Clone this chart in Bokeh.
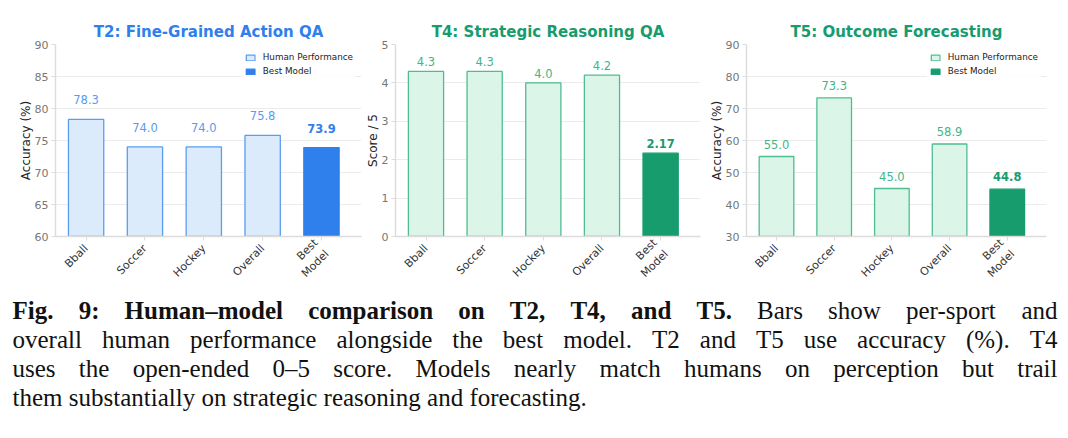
import math

from bokeh.core.properties import value
from bokeh.embed import file_html
from bokeh.layouts import column, row
from bokeh.models import ColumnDataSource, FixedTicker, Legend, LegendItem, Range1d
from bokeh.plotting import figure
from bokeh.resources import INLINE

# ---------------------------------------------------------------- data
categories = ["Bball", "Soccer", "Hockey", "Overall", "Best\nModel"]

t2_human = [78.3, 74.0, 74.0, 75.8]
t2_model = 73.9
t2_ticks = [60, 65, 70, 75, 80, 85, 90]

t4_human = [4.3, 4.3, 4.0, 4.2]
t4_model = 2.17
t4_ticks = [0, 1, 2, 3, 4, 5]

t5_human = [55.0, 73.3, 45.0, 58.9]
t5_model = 44.8
t5_ticks = [30, 40, 50, 60, 70, 80, 90]

caption_lines = [
    [("Fig. 9: Human\u2013model comparison on T2, T4, and T5.", True),
     ("Bars show per-sport and", False)],
    [("overall human performance alongside the best model. T2 and T5 use accuracy (%). T4", False)],
    [("uses the open-ended 0\u20135 score. Models nearly match humans on perception but trail", False)],
    [("them substantially on strategic reasoning and forecasting.", False)],
]
caption_justified = [True, True, True, False]

# ---------------------------------------------------------------- styles
FONT = "DejaVu Sans"
BLUE = dict(title="#2f80ed", fill="#dcebfc", edge="#5a9cf0", best="#2f80ed",
            lab="#5a9bf0", lab_best="#2f80ed")
GREEN = dict(title="#179c6e", fill="#dbf5e8", edge="#4fbd91", best="#179c6e",
             lab="#3fb688", lab_best="#179c6e")

FIG_H = 293
FRAME_TOP, FRAME_BOTTOM = 44, 238


def panel(title, human, model, ylim, yticks, ylabel, pal, width, left, right,
          label_off, show_legend, model_fmt):
    n = len(human)
    p = figure(width=width, height=FIG_H, title=title,
               x_range=Range1d(-0.52, 4.68), y_range=Range1d(*ylim),
               output_backend="svg", toolbar_location=None,
               min_border_left=left, min_border_right=right,
               min_border_top=FRAME_TOP, min_border_bottom=FIG_H - FRAME_BOTTOM)
    p.title.align = "center"
    p.title.text_font = FONT
    p.title.text_font_size = "15px"
    p.title.text_font_style = "bold"
    p.title.text_color = pal["title"]
    p.title.standoff = 7
    p.outline_line_color = None
    p.background_fill_color = "white"

    hx = list(range(n))
    hsrc = ColumnDataSource(dict(x=hx, top=human,
                                 lab=[f"{v:.1f}" for v in human]))
    msrc = ColumnDataSource(dict(x=[n], top=[model], lab=[model_fmt.format(model)]))

    r_h = p.vbar(x="x", top="top", bottom=0, width=0.6, source=hsrc,
                 fill_color=pal["fill"], line_color=pal["edge"], line_width=1.3)
    r_m = p.vbar(x="x", top="top", bottom=0, width=0.6, source=msrc,
                 fill_color=pal["best"], line_color=pal["best"], line_width=1.3)

    p.text(x="x", y="top", text="lab", source=hsrc, y_offset=-label_off,
           text_align="center", text_baseline="middle", text_font=value(FONT),
           text_font_size="11.5px", text_color=pal["lab"])
    p.text(x="x", y="top", text="lab", source=msrc, y_offset=-label_off,
           text_align="center", text_baseline="middle", text_font=value(FONT),
           text_font_size="11.5px", text_font_style="bold", text_color=pal["lab_best"])

    if show_legend:
        leg = Legend(items=[LegendItem(label="Human Performance", renderers=[r_h]),
                            LegendItem(label="Best Model", renderers=[r_m])],
                     location="top_right")
        leg.border_line_alpha = 0
        leg.background_fill_alpha = 0.85
        leg.label_text_font = FONT
        leg.label_text_font_size = "8.8px"
        leg.label_text_color = "#222222"
        leg.glyph_width = 11
        leg.glyph_height = 7
        leg.label_height = 10
        leg.label_standoff = 7
        leg.spacing = 4
        leg.padding = 3
        leg.margin = 5
        p.add_layout(leg)

    # axes
    p.xaxis.ticker = FixedTicker(ticks=list(range(len(categories))))
    p.xaxis.major_label_overrides = {i: c for i, c in enumerate(categories)}
    p.xaxis.major_label_orientation = math.pi / 4
    p.xaxis.major_label_text_font = FONT
    p.xaxis.major_label_text_font_size = "11px"
    p.xaxis.major_label_text_color = "#333333"
    p.xaxis.major_label_standoff = 6

    p.yaxis.ticker = FixedTicker(ticks=yticks)
    p.yaxis.axis_label = ylabel
    p.yaxis.axis_label_text_font = FONT
    p.yaxis.axis_label_text_font_size = "12px"
    p.yaxis.axis_label_text_font_style = "normal"
    p.yaxis.axis_label_text_color = "#222222"
    p.yaxis.axis_label_standoff = -1
    p.yaxis.major_label_text_font = FONT
    p.yaxis.major_label_text_font_size = "11px"
    p.yaxis.major_label_text_color = "#777777"
    p.yaxis.major_label_standoff = 3

    for ax in (p.xaxis, p.yaxis):
        ax.axis_line_color = "#dcdcdc"
        ax.axis_line_width = 1.4
        ax.major_tick_line_color = "#dcdcdc"
        ax.major_tick_out = 4
        ax.major_tick_in = 0
        ax.minor_tick_line_color = None

    p.xgrid.visible = False
    p.ygrid.grid_line_color = "#ebebeb"
    p.ygrid.grid_line_width = 1
    return p


f1 = panel("T2: Fine-Grained Action QA", t2_human, t2_model, (60, 90), t2_ticks,
           "Accuracy (%)", BLUE, 362, 55, 1, 19.5, True, "{:.1f}")
f2 = panel("T4: Strategic Reasoning QA", t4_human, t4_model, (0, 5), t4_ticks,
           "Score / 5", GREEN, 344, 32, 6, 9.5, False, "{:.2f}")
f3 = panel("T5: Outcome Forecasting", t5_human, t5_model, (30, 90), t5_ticks,
           "Accuracy (%)", GREEN, 362, 34, 22, 12.5, True, "{:.1f}")

# ---------------------------------------------------------------- caption
# Advance widths (per 1000 em) of the Times-compatible serif face, used to
# justify the caption lines word by word.
_REG = {" ": 250, "%": 833, "(": 333, ")": 333, ",": 250, "-": 333, ".": 250,
        ":": 278, "\u2013": 500, "M": 889, "T": 611, "F": 556, "B": 667, "H": 722,
        "a": 444, "b": 500, "c": 444, "d": 500, "e": 444, "f": 333, "g": 500,
        "h": 500, "i": 278, "j": 278, "k": 500, "l": 278, "m": 778, "n": 500,
        "o": 500, "p": 500, "q": 500, "r": 333, "s": 389, "t": 278, "u": 500,
        "v": 500, "w": 722, "x": 500, "y": 500, "z": 444}
_BOLD = {" ": 250, ",": 250, "-": 333, ".": 250, ":": 333, "\u2013": 500,
         "F": 611, "H": 778, "T": 667, "M": 944,
         "a": 500, "b": 556, "c": 444, "d": 556, "e": 444, "f": 333, "g": 500,
         "h": 556, "i": 278, "j": 333, "k": 556, "l": 278, "m": 833, "n": 556,
         "o": 500, "p": 556, "q": 556, "r": 444, "s": 389, "t": 333, "u": 556,
         "v": 500, "w": 722, "x": 500, "y": 500, "z": 444}

CAP_FS = 25
CAP_LEFT, CAP_RIGHT = 12, 1057
CAP_H = 438 - FIG_H
CAP_BASE0, CAP_STEP = 17, 29


def word_width(word, bold):
    table = _BOLD if bold else _REG
    return sum(table.get(ch, 500) for ch in word) / 1000.0 * CAP_FS


cap = figure(width=1068, height=CAP_H, x_range=Range1d(0, 1068),
             y_range=Range1d(CAP_H, 0), output_backend="svg",
             toolbar_location=None, min_border=0)
cap.axis.visible = False
cap.grid.visible = False
cap.outline_line_color = None

cols = {True: dict(x=[], y=[], t=[]), False: dict(x=[], y=[], t=[])}
for li, (segments, justify) in enumerate(zip(caption_lines, caption_justified)):
    words = []
    for seg, bold in segments:
        for w in seg.split(" "):
            words.append((w, bold))
    widths = [word_width(w, b) for w, b in words]
    if justify and len(words) > 1:
        gap = (CAP_RIGHT - CAP_LEFT - sum(widths)) / (len(words) - 1)
    else:
        gap = 0.25 * CAP_FS
    x = CAP_LEFT
    y = CAP_BASE0 + li * CAP_STEP
    for (w, b), wd in zip(words, widths):
        cols[b]["x"].append(x)
        cols[b]["y"].append(y)
        cols[b]["t"].append(w)
        x += wd + gap

for bold, d in cols.items():
    cap.text(x=d["x"], y=d["y"], text=d["t"], text_align="left",
             text_baseline="alphabetic", text_font=value("Liberation Serif"),
             text_font_size=f"{CAP_FS}px", text_color="#111111",
             text_font_style="bold" if bold else "normal")

layout = column(row(f1, f2, f3), cap)
open("out.html", "w").write(file_html(layout, INLINE))
